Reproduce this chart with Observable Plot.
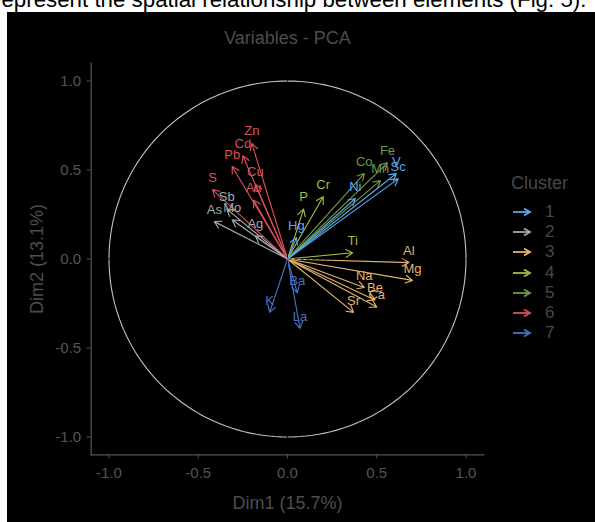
<!DOCTYPE html>
<html>
<head>
<meta charset="utf-8">
<script src="https://cdn.jsdelivr.net/npm/d3@7"></script>
<script src="https://cdn.jsdelivr.net/npm/@observablehq/plot@0.6"></script>
<style>
  html, body { margin: 0; padding: 0; background: #fff; }
  body { width: 595px; height: 522px; overflow: hidden; position: relative; font-family: "Liberation Sans", Arial, sans-serif; }
  #toptext { position: absolute; left: -6px; top: -11px; font-size: 22.3px; line-height: 22px; color: #000; white-space: nowrap; }
  #panel { position: absolute; left: 7px; top: 12px; width: 588px; height: 510px; background: #000; }
  #chart { position: absolute; left: 0; top: 0; }
  #legend { position: absolute; left: 0; top: 0; width: 588px; height: 510px; pointer-events: none; }
  .lg-title { position: absolute; font-size: 18px; line-height: 20px; color: #484848; }
  .lg-row { position: absolute; height: 20px; display: flex; align-items: center; }
  .lg-row span { font-size: 17px; line-height: 20px; color: #484848; margin-left: 13px; }
</style>
</head>
<body>
<div id="toptext">represent the spatial relationship between elements (Fig. 5).</div>
<div id="panel">
  <div id="chart"></div>
  <div id="legend"></div>
</div>
<script>
// ---- data ----
const names   = ["Zn","Cd","Pb","Cu","Au","S","Sb","Mo","As","Ag","P","Cr","Ti","Co","Mn","Fe","V","Sc","Ni","Hg","Al","Mg","Na","Be","Ca","Sr","K","Ba","La"];
const dim1    = [-0.20,-0.25,-0.31,-0.18,-0.19,-0.42,-0.34,-0.31,-0.41,-0.18, 0.09, 0.20, 0.365, 0.43, 0.52, 0.56, 0.61, 0.62, 0.38, 0.05, 0.68, 0.70, 0.43, 0.49, 0.50, 0.37,-0.10, 0.055, 0.07];
const dim2    = [ 0.65, 0.58, 0.52, 0.42, 0.33, 0.39, 0.28, 0.22, 0.21, 0.13, 0.28, 0.35, 0.035, 0.48, 0.44, 0.54, 0.48, 0.45, 0.34, 0.12,-0.02,-0.12,-0.16,-0.23,-0.27,-0.30,-0.30,-0.19,-0.39];
const cluster = ["6","6","6","6","6","6","2","2","2","2","4","4","4","5","5","5","1","1","1","1","3","3","3","3","3","3","7","7","7"];

const clusterIds    = ["1","2","3","4","5","6","7"];
const clusterColors = ["#5aa8ea","#a6a8ae","#e2b46e","#a9b842","#6f9a45","#d9505b","#4573c4"];

const xTicks = [-1.0, -0.5, 0.0, 0.5, 1.0];
const yTicks = [-1.0, -0.5, 0.0, 0.5, 1.0];
const titleText = "Variables - PCA";
const xLabel = "Dim1 (15.7%)";
const yLabel = "Dim2 (13.1%)";
const legendTitle = "Cluster";

// ---- build ----
const data = names.map((n, i) => ({name: n, dim1: dim1[i], dim2: dim2[i], cluster: cluster[i]}));
// unit correlation circle (reference guide)
const unitCircle = d3.range(0, 361, 2).map(a => ({cx: Math.cos(a * Math.PI / 180), cy: Math.sin(a * Math.PI / 180)}));
const fmt = d => d.toFixed(1);

const plot = Plot.plot({
  width: 588,
  height: 510,
  marginLeft: 83.65,
  marginRight: 111.65,
  marginTop: 50.7,
  marginBottom: 67.7,
  style: {background: "#000", fontFamily: "'Liberation Sans', Arial, sans-serif", overflow: "visible"},
  x: {domain: [-1.1, 1.1]},
  y: {domain: [-1.1, 1.1]},
  color: {domain: clusterIds, range: clusterColors},
  marks: [
    Plot.line(unitCircle, {x: "cx", y: "cy", stroke: "#c2c2c2", strokeWidth: 1.1}),
    Plot.arrow(data, {x1: 0, y1: 0, x2: "dim1", y2: "dim2", stroke: "cluster", strokeWidth: 1.15, headLength: 10, headAngle: 60}),
    Plot.ruleX([0], {stroke: "#000", strokeWidth: 1, strokeDasharray: "3,3"}),
    Plot.ruleY([0], {stroke: "#000", strokeWidth: 1, strokeDasharray: "3,3"}),
    Plot.text(data, {x: "dim1", y: "dim2", text: "name", fill: "cluster", dy: -12, fontSize: 13}),
    Plot.frame({anchor: "left", stroke: "#555", strokeWidth: 1.2}),
    Plot.frame({anchor: "bottom", stroke: "#555", strokeWidth: 1.2}),
    Plot.axisX(xTicks, {tickFormat: fmt, tickSize: 4, tickPadding: 9, fontSize: 15, color: "#555", label: null}),
    Plot.axisY(yTicks, {tickFormat: fmt, tickSize: 4, tickPadding: 6, fontSize: 15, color: "#555", label: null}),
    Plot.text([xLabel], {frameAnchor: "bottom", lineAnchor: "middle", dy: 48, fontSize: 18, fill: "#4d4d4d"}),
    Plot.text([yLabel], {frameAnchor: "left", lineAnchor: "middle", textAnchor: "middle", dx: -54, rotate: -90, fontSize: 18, fill: "#4d4d4d"}),
    Plot.text([titleText], {frameAnchor: "top", lineAnchor: "middle", dy: -25, fontSize: 18, fill: "#4d4d4d"})
  ]
});
document.getElementById("chart").appendChild(plot);

// ---- legend (HTML) ----
const lg = document.getElementById("legend");
const t = document.createElement("div");
t.className = "lg-title";
t.textContent = legendTitle;
t.style.left = (511 - 7) + "px";
t.style.top = (183 - 12 - 10) + "px";
lg.appendChild(t);
clusterIds.forEach((id, i) => {
  const row = document.createElement("div");
  row.className = "lg-row";
  row.style.left = (512 - 7) + "px";
  row.style.top = (212 - 12 - 10 + i * 20.2) + "px";
  const c = clusterColors[i];
  row.innerHTML = `<svg width="20" height="10" viewBox="0 0 20 10"><line x1="1" y1="5" x2="18" y2="5" stroke="${c}" stroke-width="1.8"/><polyline points="12,1.5 18,5 12,8.5" fill="none" stroke="${c}" stroke-width="1.8"/></svg><span>${id}</span>`;
  lg.appendChild(row);
});
</script>
</body>
</html>
